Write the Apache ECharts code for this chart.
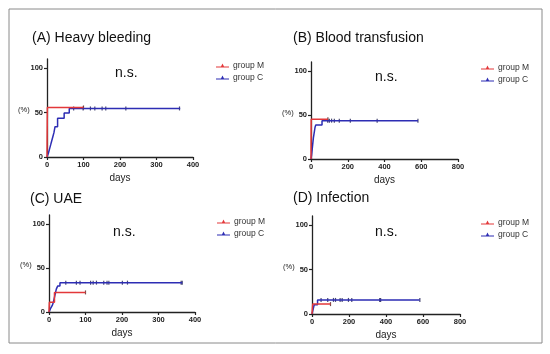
<!DOCTYPE html>
<html><head><meta charset="utf-8">
<script src="https://cdn.jsdelivr.net/npm/echarts@6/dist/echarts.min.js"></script>
<style>html,body{margin:0;padding:0;background:#fff}#c{width:550px;height:354px}</style>
</head><body><div id="c"></div>
<script>
// ---- data (days, cumulative %) ----
const titles = ['(A) Heavy bleeding', '(B) Blood transfusion', '(C) UAE', '(D) Infection'];
const seriesNames = ['group M', 'group C'];
const xMaxes = [400, 800, 400, 800];
const xIntervals = [100, 200, 100, 200];
const yTicks = [0, 50, 100];

const A_groupM = [[0,0],[1,55.6],[100,55.6]];
const A_groupC = [[0,0],[4,4.5],[7,9.1],[10,13.6],[13,18.2],[16,22.7],[19,27.3],[22,34],[29,43.5],[47,49.5],[61,54.5],[365,54.5]];
const A_censM = [100];
const A_censC = [73,99,119,131,151,161,216,363];

const B_groupM = [[0,0],[1,45],[92,45]];
const B_groupC = [[0,0],[3,4],[5,8],[7,12],[9,16],[11,20],[13,24],[16,28],[19,32],[22,36],[26,38.5],[60,43.5],[582,43.5]];
const B_censM = [92];
const B_censC = [91,100,112,127,154,214,360,582];

const C_groupM = [[0,0],[1,11.1],[15,22.2],[100,22.2]];
const C_groupC = [[0,0],[4,3.7],[9,7.4],[12,11.1],[14,14.8],[16,18.5],[18,22.2],[20,25.9],[24,29.6],[30,33.3],[365,33.3]];
const C_censM = [100];
const C_censC = [46,75,85,114,121,130,150,159,164,201,215,362,365];

const D_groupM = [[0,0],[4,11.1],[100,11.1]];
const D_groupC = [[0,0],[3,2.6],[6,5.3],[9,7.9],[12,10.5],[30,15.8],[582,15.8]];
const D_censM = [100];
const D_censC = [49,85,116,127,152,163,197,215,366,371,583];

// ---- layout ----
const RED = '#e3383a', BLUE = '#2d2db4', INK = '#222';
const FONT = 'Liberation Sans, Arial, sans-serif';
const grids = [
  {left:47, top:59, width:146, height:98},
  {left:311, top:62, width:147, height:97},
  {left:49, top:215, width:146, height:97},
  {left:312, top:216, width:148, height:98}
];
const titlePos = [[32,31],[293,31],[30,192],[293,191]];
const nsPos = [[115,66],[375,70],[113,225],[375,225]];
const legendPos = [[216,61],[481,63],[217,217],[481,218]];
const pctPos = [[18,111],[282,114],[20,266],[283,268]];

const panels = [
  [A_groupM, A_groupC, A_censM, A_censC],
  [B_groupM, B_groupC, B_censM, B_censC],
  [C_groupM, C_groupC, C_censM, C_censC],
  [D_groupM, D_groupC, D_censM, D_censC]
];

function stepAt(curve, d){ let y = curve[0][1]; for (const p of curve){ if (p[0] <= d) y = p[1]; } return y; }

const option = {
  animation:false,
  textStyle:{fontFamily:FONT},
  title:[], legend:[], grid:[], xAxis:[], yAxis:[], series:[],
  graphic:[{type:'rect', shape:{x:9, y:9, width:533, height:334}, style:{fill:'none', stroke:'#8a8a8a', lineWidth:1}}]
};

panels.forEach((p, i) => {
  option.grid.push(grids[i]);
  option.title.push({text:titles[i], left:titlePos[i][0], top:titlePos[i][1], padding:0,
    textStyle:{fontSize:14, fontWeight:'normal', color:'#111', fontFamily:FONT}});
  option.title.push({text:'n.s.', left:nsPos[i][0], top:nsPos[i][1], padding:0,
    textStyle:{fontSize:14, fontWeight:'normal', color:'#111', fontFamily:FONT}});
  option.legend.push({data:seriesNames, orient:'vertical', left:legendPos[i][0], top:legendPos[i][1], padding:0,
    itemWidth:13, itemHeight:4.5, itemGap:3, selectedMode:false,
    icon:'path://M0,3L13,3L13,4.2L0,4.2Z M5,3L6.5,0L8,3Z',
    textStyle:{fontSize:8.5, color:'#333', fontFamily:FONT, padding:[0,0,0,-1]}});
  option.graphic.push({type:'text', left:pctPos[i][0], top:pctPos[i][1]-5,
    style:{text:'(%)', fontSize:7.5, fill:INK, fontFamily:FONT}});
  option.xAxis.push({gridIndex:i, type:'value', min:0, max:xMaxes[i], interval:xIntervals[i],
    name:'days', nameLocation:'middle', nameGap:16, nameTextStyle:{fontSize:10, color:'#222', fontFamily:FONT},
    axisLine:{lineStyle:{color:INK, width:1.3}}, axisTick:{length:3, lineStyle:{color:INK, width:1.2}},
    axisLabel:{fontSize:7.5, fontWeight:'bold', color:INK, margin:4, fontFamily:FONT}, splitLine:{show:false}});
  option.yAxis.push({gridIndex:i, type:'value', min:0, max:110,
    axisLine:{show:true, lineStyle:{color:INK, width:1.3}},
    axisTick:{show:true, length:3, customValues:yTicks, lineStyle:{color:INK, width:1.2}},
    axisLabel:{customValues:yTicks, fontSize:7.5, fontWeight:'bold', color:INK, margin:4, fontFamily:FONT},
    splitLine:{show:false}});
  const [m, c, cm, cc] = p;
  option.series.push({name:'group C', type:'line', xAxisIndex:i, yAxisIndex:i, data:c, step:'end', symbol:'none',
    itemStyle:{color:BLUE}, lineStyle:{color:BLUE, width:1.5}});
  option.series.push({name:'group M', type:'line', xAxisIndex:i, yAxisIndex:i, data:m, step:'end', symbol:'none',
    itemStyle:{color:RED}, lineStyle:{color:RED, width:1.5}});
  option.series.push({name:'group C', type:'scatter', xAxisIndex:i, yAxisIndex:i, symbol:'rect', symbolSize:[1.2,4],
    data:cc.map(d => [d, stepAt(c, d)]), itemStyle:{color:'#1d1d50'}});
  option.series.push({name:'group M', type:'scatter', xAxisIndex:i, yAxisIndex:i, symbol:'rect', symbolSize:[1.2,4],
    data:cm.map(d => [d, stepAt(m, d)]), itemStyle:{color:'#502020'}});
});

const chart = echarts.init(document.getElementById('c'), null, {renderer:'canvas'});
chart.setOption(option);
</script>
</body></html>
